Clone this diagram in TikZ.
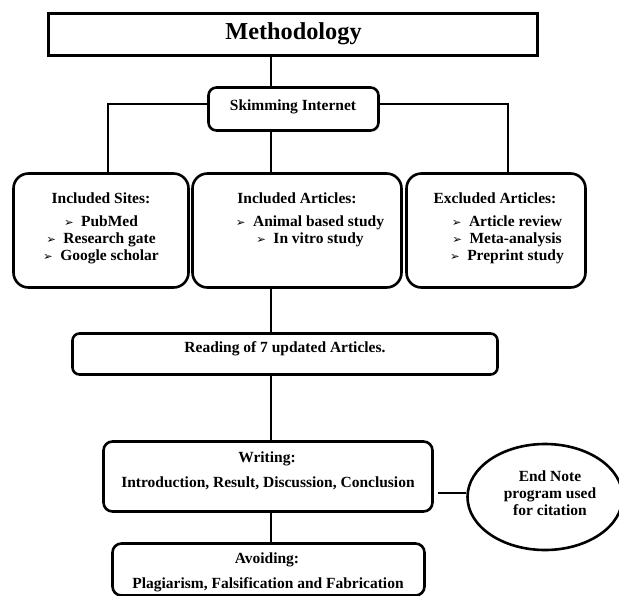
\documentclass[tikz,border=0pt]{standalone}
\usepackage{fontspec}
\setmainfont{Liberation Serif}
\newfontfamily\dingfont{DejaVu Sans}
\usetikzlibrary{shapes.geometric}
\newcommand\bul[1]{{\dingfont\fontsize{11.5}{12}\selectfont ➢}\hspace{7.5pt}#1}
\newcommand\firstline{\rule{0pt}{11pt}}
\tikzset{
  box/.style={draw, line width=2.6pt, rounded corners=#1, inner sep=0pt},
  box/.default=8pt,
  link/.style={line width=1.3pt},
  txt/.style={inner sep=0pt, font=\fontsize{15.5}{16.7}\selectfont\bfseries},
}
\begin{document}
\begin{tikzpicture}[x=1pt,y=-1pt]
\useasboundingbox (0,0) rectangle (619,595);
\fill[white] (0,0) rectangle (619,595);
% boxes
\node[box=0pt, minimum width=489pt, minimum height=42pt] (meth) at (293,34.5) {};
\node[box=8pt, minimum width=170pt, minimum height=43pt] (skim) at (293.5,109) {};
\node[box=15pt, minimum width=175pt, minimum height=114pt] (sites) at (101,230.5) {};
\node[box=15pt, minimum width=209pt, minimum height=114pt] (arts) at (297,230.5) {};
\node[box=15pt, minimum width=179pt, minimum height=114pt] (excl) at (496,230.5) {};
\node[box=7pt, minimum width=425pt, minimum height=41pt] (read) at (285,354) {};
\node[box=9pt, minimum width=329pt, minimum height=70pt] (wr) at (268,476.5) {};
\node[box=9pt, minimum width=312pt, minimum height=52pt] (av) at (268.5,569.5) {};
\node[draw, ellipse, line width=2.6pt, minimum width=155pt, minimum height=106pt, inner sep=0pt] (ell) at (545,497) {};
% texts
\node[inner sep=0pt, anchor=base, font=\fontsize{24.3}{26}\selectfont\bfseries] (methT) at (293.5,39) {Methodology};
\node[txt, anchor=base] (skimT) at (293,110) {Skimming Internet};
\node[txt, anchor=base] (sitesH) at (101,203.5) {Included Sites:};
\node[txt, align=center, anchor=north] (sitesL) at (101,215.7) {\firstline\bul{PubMed}\\\bul{Research gate}\\\bul{Google scholar}};
\node[txt, anchor=base] (artsH) at (297,203.5) {Included Articles:};
\node[txt, align=center, anchor=north] (artsL) at (310,215.7) {\firstline\bul{Animal based study}\\\bul{In vitro study}};
\node[txt, anchor=base] (exclH) at (495,203) {Excluded Articles:};
\node[txt, align=center, anchor=north] (exclL) at (507,215.7) {\firstline\bul{Article review}\\\bul{Meta-analysis}\\\bul{Preprint study}};
\node[txt, anchor=base] (readT) at (285,352.5) {Reading of 7 updated Articles.};
\node[txt, anchor=base] (wrH) at (267,462.5) {Writing:};
\node[txt, anchor=base] (wrT) at (268,487.5) {Introduction, Result, Discussion, Conclusion};
\node[txt, anchor=base] (avH) at (267,563.5) {Avoiding:};
\node[txt, anchor=base] (avT) at (268,588.5) {Plagiarism, Falsification and Fabrication};
\node[txt, align=center, anchor=north, font=\fontsize{15.5}{17}\selectfont\bfseries] (ellT) at (550,470) {\firstline End Note\\program used\\for citation};
% connectors
\coordinate (spine) at (271,0);
\coordinate (sl) at (108,104);
\coordinate (sr) at (508,104);
\coordinate (cn) at (438,493);
\draw[link] (meth.south -| spine) -- (skim.north -| spine);
\draw[link] (skim.west |- sl) -- (sl) -- (sites.north -| sl);
\draw[link] (skim.east |- sr) -- (sr) -- (excl.north -| sr);
\draw[link] (skim.south -| spine) -- (arts.north -| spine);
\draw[link] (arts.south -| spine) -- (read.north -| spine);
\draw[link] (read.south -| spine) -- (wr.north -| spine);
\draw[link] (wr.south -| spine) -- (av.north -| spine);
\draw[link] (cn) -- (ell.west |- cn);
\end{tikzpicture}
\end{document}
